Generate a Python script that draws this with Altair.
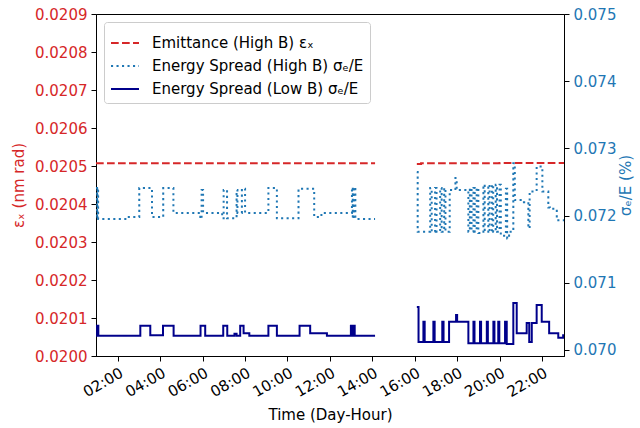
import altair as alt
import pandas as pd

# ---------------- data ----------------
SERIES = ["Emittance (High B) εₓ", "Energy Spread (High B) σₑ/E", "Energy Spread (Low B) σₑ/E"]
COLORS = ["#d62728", "#1f77b4", "#00008b"]
DASHES = [[7.7, 3.3], [2.1, 3.4], [1, 0]]

# Emittance (left axis, nm rad)
emit_t1 = [0.97, 5.0, 10.0, 14.13]
emit_v1 = [0.020507, 0.020507, 0.020507, 0.020507]
emit_t2 = [16.10, 16.30, 20.0, 23.04]
emit_v2 = [0.020505, 0.020507, 0.020508, 0.020507]

# Energy spread, high B (right axis, %)
hb_t1 = [0.97, 1.02, 1.04, 1.07, 2.45, 3.01, 3.61, 4.14, 4.62, 5.89, 5.95, 6.02,
         6.92, 6.99, 7.15, 7.60, 7.64, 7.85, 8.00, 9.10, 9.50, 10.52, 11.26, 11.60,
         13.04, 13.08, 13.12, 13.20, 14.13]
hb_v1 = [0.07241, 0.07195, 0.07241, 0.07195, 0.07198, 0.07241, 0.07198, 0.07241, 0.07204, 0.07195, 0.07238, 0.07204,
         0.07196, 0.07238, 0.07196, 0.07238, 0.07204, 0.07240, 0.07204, 0.07241, 0.07196, 0.07240, 0.07198, 0.07204,
         0.07242, 0.07195, 0.07242, 0.07195, 0.07195]
hb_t2 = [16.10, 16.14, 16.73, 16.80, 16.96, 17.03, 17.20, 17.27, 17.39, 17.45, 17.59, 17.65,
         17.92, 17.98, 18.53, 18.60, 18.68, 18.77, 18.83, 18.92, 19.00, 19.24, 19.30, 19.47,
         19.53, 19.64, 19.70, 19.82, 19.88, 20.00, 20.06, 20.30, 20.36, 20.45, 20.65, 20.72,
         21.15, 21.36, 21.42, 21.75, 22.02, 22.30, 22.38, 22.70, 23.04]
hb_v2 = [0.07265, 0.07176, 0.07241, 0.07176, 0.07241, 0.07176, 0.07241, 0.07176, 0.07241, 0.07176, 0.07176, 0.07238,
         0.07256, 0.07238, 0.07176, 0.07241, 0.07176, 0.07241, 0.07176, 0.07241, 0.07174, 0.07246, 0.07176, 0.07246,
         0.07176, 0.07246, 0.07176, 0.07246, 0.07176, 0.07246, 0.07170, 0.07240, 0.07166, 0.07176, 0.07278, 0.07223,
         0.07220, 0.07181, 0.07236, 0.07273, 0.07236, 0.07212, 0.07210, 0.07193, 0.07193]

# Energy spread, low B (right axis, %)
lb_t1 = [0.97, 1.02, 1.04, 1.08, 3.06, 3.53, 4.13, 4.63, 5.90, 6.12, 6.97, 7.16,
         7.50, 7.60, 7.77, 7.93, 8.20, 9.10, 9.50, 10.57, 11.07, 11.86, 12.99, 13.04,
         13.08, 13.17, 14.13]
lb_v1 = [0.07036, 0.07021, 0.07036, 0.07021, 0.07036, 0.07022, 0.07036, 0.07021, 0.07036, 0.07021, 0.07036, 0.07021,
         0.07024, 0.07021, 0.07036, 0.07025, 0.07021, 0.07036, 0.07021, 0.07036, 0.07025, 0.07021, 0.07036, 0.07021,
         0.07036, 0.07021, 0.07021]
lb_t2 = [16.10, 16.18, 16.41, 16.47, 16.88, 16.94, 17.30, 17.36, 17.62, 17.95, 18.00, 18.53,
         18.77, 18.82, 19.08, 19.13, 19.40, 19.45, 19.71, 19.76, 19.94, 19.99, 20.26, 20.34,
         20.65, 20.81, 21.28, 21.40, 21.52, 21.75, 21.99, 22.34, 22.77, 23.00, 23.04]
lb_v2 = [0.07064, 0.07012, 0.07042, 0.07012, 0.07042, 0.07012, 0.07042, 0.07012, 0.07042, 0.07052, 0.07042, 0.07010,
         0.07042, 0.07010, 0.07042, 0.07010, 0.07042, 0.07010, 0.07042, 0.07010, 0.07042, 0.07010, 0.07042, 0.07009,
         0.07070, 0.07025, 0.07040, 0.07012, 0.07040, 0.07067, 0.07042, 0.07025, 0.07018, 0.07022, 0.07022]

LEFT_TICKS = [0.0200, 0.0201, 0.0202, 0.0203, 0.0204, 0.0205, 0.0206, 0.0207, 0.0208, 0.0209]
RIGHT_TICKS = [0.070, 0.071, 0.072, 0.073, 0.074, 0.075]
X_TICKS = [2, 4, 6, 8, 10, 12, 14, 16, 18, 20, 22]

# ---------------- table ----------------
rows = []
def add(series, seg, ts, vs):
    for t, v in zip(ts, vs):
        rows.append({"series": series, "key": f"{series}-{seg}", "t": t, "v": v})

add(SERIES[0], 1, emit_t1, emit_v1)
add(SERIES[0], 2, emit_t2, emit_v2)
add(SERIES[1], 1, hb_t1, hb_v1)
add(SERIES[1], 2, hb_t2, hb_v2)
add(SERIES[2], 1, lb_t1, lb_v1)
add(SERIES[2], 2, lb_t2, lb_v2)
df = pd.DataFrame(rows)

FONT = "DejaVu Sans"
RED, BLUE = COLORS[0], COLORS[1]

x_enc = alt.X(
    "t:Q",
    scale=alt.Scale(domain=[0.97, 23.04], nice=False, zero=False),
    axis=alt.Axis(
        values=X_TICKS,
        labelExpr="(datum.value < 10 ? '0' : '') + datum.value + ':00'",
        labelAngle=-30, labelAlign="right", labelBaseline="top", labelOverlap=False,
        title="Time (Day-Hour)", titlePadding=8, grid=False,
    ),
)
color_enc = alt.Color(
    "series:N",
    scale=alt.Scale(domain=SERIES, range=COLORS),
    legend=alt.Legend(title=None, orient="top-left"),
)
dash_enc = alt.StrokeDash(
    "series:N",
    scale=alt.Scale(domain=SERIES, range=DASHES),
    legend=alt.Legend(title=None, orient="top-left"),
)

left = alt.Chart(df).transform_filter(
    alt.datum.series == SERIES[0]
).mark_line(interpolate="step-after", strokeWidth=2, clip=True).encode(
    x=x_enc,
    y=alt.Y("v:Q",
            scale=alt.Scale(domain=[0.0200, 0.0209], nice=False, zero=False),
            axis=alt.Axis(orient="left", values=LEFT_TICKS, format=".4f", grid=False,
                          labelColor=RED, title="εₓ (nm rad)", titleColor=RED, titlePadding=8)),
    color=color_enc, strokeDash=dash_enc, detail="key:N",
)

right = alt.Chart(df).transform_filter(
    alt.datum.series != SERIES[0]
).mark_line(interpolate="step-after", strokeWidth=2, clip=True).encode(
    x=x_enc,
    y=alt.Y("v:Q",
            scale=alt.Scale(domain=[0.06991, 0.075], nice=False, zero=False),
            axis=alt.Axis(orient="right", values=RIGHT_TICKS, format=".3f", grid=False,
                          labelColor=BLUE, title="σₑ/E (%)", titleColor=BLUE,
                          titleAngle=270, titleBaseline="top", titlePadding=3)),
    color=color_enc, strokeDash=dash_enc, detail="key:N",
)

chart = alt.layer(left, right).resolve_scale(y="independent").properties(
    width=468, height=342,
    autosize=alt.AutoSizeParams(type="none"),
    padding={"left": 96, "top": 14, "right": 76, "bottom": 72},
).configure(font=FONT).configure_view(
    stroke="black", strokeWidth=1
).configure_axis(
    domainColor="black", tickColor="black", tickSize=5, labelPadding=4,
    labelFontSize=15, titleFontSize=15, titleFontWeight="normal",
    labelFont=FONT, titleFont=FONT, titleColor="black", labelColor="black",
).configure_legend(
    offset=8, padding=6, fillColor="white", strokeColor="#cccccc", cornerRadius=3,
    labelFontSize=15, labelFont=FONT, symbolType="stroke", symbolStrokeWidth=2,
    symbolSize=784, rowPadding=0, labelOffset=12, labelLimit=400,
)

chart.save("out.html", embed_options={"renderer": "svg", "actions": False})
